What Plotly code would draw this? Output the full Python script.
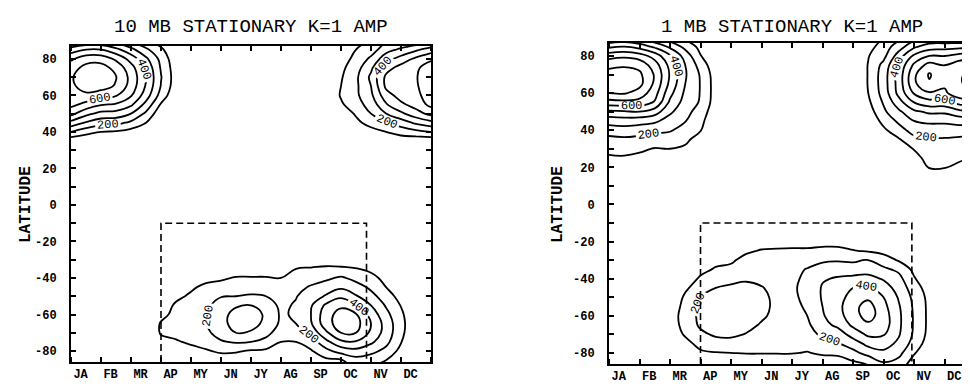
import plotly.graph_objects as go

# ---------------- data ----------------
MONTHS = ["JA", "FB", "MR", "AP", "MY", "JN", "JY", "AG", "SP", "OC", "NV", "DC"]
MONTH_X = [0, 0.5, 1, 1.5, 2, 2.5, 3, 3.5, 4, 4.5, 5, 5.5, 6,
           6.5, 7, 7.5, 8, 8.5, 9, 9.5, 10, 10.5, 11, 11.5, 12]
LATITUDES = [90, 85, 80, 75, 70, 65, 60, 55, 50, 45, 40, 35, 30, 25, 20, 15, 10, 5, 0,
             -5, -10, -15, -20, -25, -30, -35, -40, -45, -50, -55, -60, -65, -70, -75, -80, -85, -90]
LAT_TICKS = [-80, -60, -40, -20, 0, 20, 40, 60, 80]
LAT_TICK_TEXT = ["-80", "-60", "-40", "-20", "0", "20", "40", "60", "80"]

TITLE_10MB = "10 MB STATIONARY K=1 AMP"
TITLE_1MB = "1 MB STATIONARY K=1 AMP"

# dashed box: [start month, end month, top latitude]
BOX_10MB = [3.0, 9.85, -10]
BOX_1MB = [3.0, 9.93, -10]

# amplitude (rows = LATITUDES, cols = MONTH_X)
AMP_10MB = [
    [250, 300, 300, 250, 180, 110, 50, 0, 0, 0, 0, 0, 0, 0, 0, 0, 0, 0, 0, 60, 110, 180, 200, 220, 250],
    [450, 500, 500, 430, 330, 220, 120, 10, 0, 0, 0, 0, 0, 0, 0, 0, 0, 0, 20, 100, 150, 260, 320, 380, 450],
    [580, 660, 660, 580, 460, 320, 170, 30, 0, 0, 0, 0, 0, 0, 0, 0, 0, 0, 50, 130, 220, 360, 440, 520, 580],
    [660, 730, 740, 670, 540, 380, 190, 45, 0, 0, 0, 0, 0, 0, 0, 0, 0, 0, 75, 160, 280, 460, 540, 580, 660],
    [690, 750, 760, 705, 570, 400, 205, 50, 0, 0, 0, 0, 0, 0, 0, 0, 0, 0, 90, 180, 320, 520, 580, 590, 690],
    [680, 740, 740, 690, 560, 390, 195, 45, 0, 0, 0, 0, 0, 0, 0, 0, 0, 0, 100, 180, 300, 520, 570, 585, 680],
    [660, 680, 650, 610, 510, 350, 160, 20, 0, 0, 0, 0, 0, 0, 0, 0, 0, 0, 110, 180, 280, 460, 540, 570, 660],
    [630, 570, 510, 490, 420, 270, 90, 0, 0, 0, 0, 0, 0, 0, 0, 0, 0, 0, 85, 160, 240, 390, 480, 540, 630],
    [530, 430, 370, 360, 300, 180, 30, 0, 0, 0, 0, 0, 0, 0, 0, 0, 0, 0, 50, 110, 200, 300, 380, 460, 530],
    [370, 290, 240, 230, 180, 100, 0, 0, 0, 0, 0, 0, 0, 0, 0, 0, 0, 0, 20, 80, 130, 190, 250, 320, 370],
    [200, 140, 100, 90, 60, 20, 0, 0, 0, 0, 0, 0, 0, 0, 0, 0, 0, 0, 0, 30, 70, 100, 140, 170, 200],
    [30, 10, 0, 0, 0, 0, 0, 0, 0, 0, 0, 0, 0, 0, 0, 0, 0, 0, 0, 0, 10, 30, 40, 30, 30],
    [0, 0, 0, 0, 0, 0, 0, 0, 0, 0, 0, 0, 0, 0, 0, 0, 0, 0, 0, 0, 0, 0, 0, 0, 0],
    [0, 0, 0, 0, 0, 0, 0, 0, 0, 0, 0, 0, 0, 0, 0, 0, 0, 0, 0, 0, 0, 0, 0, 0, 0],
    [0, 0, 0, 0, 0, 0, 0, 0, 0, 0, 0, 0, 0, 0, 0, 0, 0, 0, 0, 0, 0, 0, 0, 0, 0],
    [0, 0, 0, 0, 0, 0, 0, 0, 0, 0, 0, 0, 0, 0, 0, 0, 0, 0, 0, 0, 0, 0, 0, 0, 0],
    [0, 0, 0, 0, 0, 0, 0, 0, 0, 0, 0, 0, 0, 0, 0, 0, 0, 0, 0, 0, 0, 0, 0, 0, 0],
    [0, 0, 0, 0, 0, 0, 0, 0, 0, 0, 0, 0, 0, 0, 0, 0, 0, 0, 0, 0, 0, 0, 0, 0, 0],
    [0, 0, 0, 0, 0, 0, 0, 0, 0, 0, 0, 0, 0, 0, 0, 0, 0, 0, 0, 0, 0, 0, 0, 0, 0],
    [0, 0, 0, 0, 0, 0, 0, 0, 0, 0, 0, 0, 0, 0, 0, 0, 0, 0, 0, 0, 0, 0, 0, 0, 0],
    [0, 0, 0, 0, 0, 0, 0, 0, 0, 0, 0, 0, 0, 0, 0, 0, 0, 0, 0, 0, 0, 0, 0, 0, 0],
    [0, 0, 0, 0, 0, 0, 0, 0, 0, 0, 0, 0, 0, 0, 0, 0, 0, 0, 0, 0, 0, 0, 0, 0, 0],
    [0, 0, 0, 0, 0, 0, 0, 0, 0, 0, 0, 0, 0, 0, 0, 0, 0, 0, 0, 0, 0, 0, 0, 0, 0],
    [0, 0, 0, 0, 0, 0, 0, 0, 0, 0, 0, 0, 0, 0, 0, 0, 0, 0, 0, 0, 0, 0, 0, 0, 0],
    [0, 0, 0, 0, 0, 0, 0, 0, 0, 0, 0, 0, 0, 0, 0, 20, 40, 50, 50, 40, 20, 0, 0, 0, 0],
    [0, 0, 0, 0, 0, 0, 0, 0, 0, 0, 20, 30, 30, 30, 30, 100, 110, 120, 115, 105, 70, 20, 0, 0, 0],
    [0, 0, 0, 0, 0, 0, 0, 0, 20, 60, 80, 110, 110, 110, 100, 140, 160, 180, 215, 170, 140, 60, 0, 0, 0],
    [0, 0, 0, 0, 0, 0, 0, 0, 80, 130, 150, 160, 160, 160, 150, 170, 210, 250, 280, 240, 180, 100, 0, 0, 0],
    [0, 0, 0, 0, 0, 0, 0, 70, 120, 160, 195, 200, 210, 200, 180, 195, 250, 310, 380, 310, 230, 150, 60, 0, 0],
    [0, 0, 0, 0, 0, 0, 30, 120, 140, 180, 240, 290, 300, 250, 180, 210, 290, 420, 480, 400, 300, 190, 95, 0, 0],
    [0, 0, 0, 0, 0, 0, 70, 130, 150, 190, 270, 330, 330, 290, 185, 215, 300, 460, 540, 510, 360, 230, 120, 10, 0],
    [0, 0, 0, 0, 0, 0, 110, 130, 150, 195, 275, 330, 330, 280, 180, 200, 290, 460, 550, 540, 400, 260, 130, 20, 0],
    [0, 0, 0, 0, 0, 0, 110, 125, 140, 180, 240, 300, 290, 230, 150, 160, 230, 380, 500, 500, 380, 260, 125, 15, 0],
    [0, 0, 0, 0, 0, 0, 70, 90, 115, 140, 190, 210, 200, 170, 100, 100, 150, 270, 380, 390, 320, 230, 105, 0, 0],
    [0, 0, 0, 0, 0, 0, 20, 40, 70, 90, 115, 110, 90, 80, 40, 50, 90, 170, 240, 270, 230, 170, 70, 0, 0],
    [0, 0, 0, 0, 0, 0, 0, 10, 30, 40, 50, 50, 40, 30, 10, 20, 40, 80, 90, 160, 140, 100, 30, 0, 0],
    [0, 0, 0, 0, 0, 0, 0, 0, 0, 0, 10, 10, 10, 0, 0, 0, 10, 30, 30, 100, 80, 60, 10, 0, 0],
]

AMP_1MB = [
    [280, 300, 260, 200, 130, 70, 20, 0, 0, 0, 0, 0, 0, 0, 0, 0, 0, 30, 100, 170, 250, 300, 300, 290, 280],
    [480, 500, 460, 380, 280, 170, 70, 0, 0, 0, 0, 0, 0, 0, 0, 0, 0, 60, 150, 250, 380, 450, 460, 470, 480],
    [660, 680, 650, 560, 410, 260, 105, 10, 0, 0, 0, 0, 0, 0, 0, 0, 0, 95, 170, 350, 520, 600, 600, 640, 660],
    [780, 790, 770, 650, 470, 300, 160, 30, 0, 0, 0, 0, 0, 0, 0, 0, 0, 105, 230, 420, 620, 740, 700, 760, 780],
    [830, 840, 820, 690, 490, 310, 190, 50, 0, 0, 0, 0, 0, 0, 0, 0, 10, 105, 250, 440, 680, 810, 730, 790, 830],
    [840, 850, 830, 680, 475, 300, 195, 55, 0, 0, 0, 0, 0, 0, 0, 0, 10, 105, 250, 440, 680, 790, 720, 790, 840],
    [800, 810, 760, 640, 430, 280, 195, 55, 0, 0, 0, 0, 0, 0, 0, 0, 0, 100, 240, 430, 610, 690, 680, 770, 800],
    [660, 670, 660, 590, 380, 260, 190, 50, 0, 0, 0, 0, 0, 0, 0, 0, 0, 80, 210, 360, 500, 560, 560, 640, 660],
    [480, 490, 500, 450, 320, 230, 160, 30, 0, 0, 0, 0, 0, 0, 0, 0, 0, 50, 180, 280, 380, 420, 420, 470, 480],
    [340, 350, 340, 320, 255, 205, 130, 10, 0, 0, 0, 0, 0, 0, 0, 0, 0, 20, 130, 220, 300, 320, 320, 340, 340],
    [250, 260, 245, 225, 210, 160, 105, 0, 0, 0, 0, 0, 0, 0, 0, 0, 0, 0, 80, 160, 240, 250, 250, 250, 250],
    [170, 180, 170, 155, 150, 120, 60, 0, 0, 0, 0, 0, 0, 0, 0, 0, 0, 0, 40, 90, 170, 190, 190, 180, 170],
    [120, 130, 115, 95, 100, 85, 20, 0, 0, 0, 0, 0, 0, 0, 0, 0, 0, 0, 10, 40, 105, 150, 140, 130, 120],
    [90, 90, 80, 45, 30, 20, 0, 0, 0, 0, 0, 0, 0, 0, 0, 0, 0, 0, 0, 10, 70, 130, 120, 120, 90],
    [30, 30, 20, 0, 0, 0, 0, 0, 0, 0, 0, 0, 0, 0, 0, 0, 0, 0, 0, 0, 40, 105, 105, 70, 30],
    [0, 0, 0, 0, 0, 0, 0, 0, 0, 0, 0, 0, 0, 0, 0, 0, 0, 0, 0, 0, 10, 60, 60, 20, 0],
    [0, 0, 0, 0, 0, 0, 0, 0, 0, 0, 0, 0, 0, 0, 0, 0, 0, 0, 0, 0, 0, 10, 10, 0, 0],
    [0, 0, 0, 0, 0, 0, 0, 0, 0, 0, 0, 0, 0, 0, 0, 0, 0, 0, 0, 0, 0, 0, 0, 0, 0],
    [0, 0, 0, 0, 0, 0, 0, 0, 0, 0, 0, 0, 0, 0, 0, 0, 0, 0, 0, 0, 0, 0, 0, 0, 0],
    [0, 0, 0, 0, 0, 0, 0, 0, 0, 0, 0, 0, 0, 0, 0, 0, 0, 0, 0, 0, 0, 0, 0, 0, 0],
    [0, 0, 0, 0, 0, 0, 0, 0, 0, 0, 0, 0, 0, 0, 0, 0, 0, 0, 0, 0, 0, 0, 0, 0, 0],
    [0, 0, 0, 0, 0, 0, 0, 0, 0, 0, 0, 0, 0, 0, 0, 0, 0, 0, 0, 0, 0, 0, 0, 0, 0],
    [0, 0, 0, 0, 0, 0, 0, 0, 0, 10, 40, 50, 50, 50, 60, 60, 55, 40, 20, 0, 0, 0, 0, 0, 0],
    [0, 0, 0, 0, 0, 0, 0, 0, 10, 80, 110, 115, 120, 120, 130, 130, 105, 90, 70, 40, 0, 0, 0, 0, 0],
    [0, 0, 0, 0, 0, 0, 10, 60, 80, 140, 140, 140, 150, 165, 185, 190, 180, 205, 150, 90, 30, 0, 0, 0, 0],
    [0, 0, 0, 0, 0, 0, 60, 115, 130, 165, 160, 155, 175, 205, 240, 260, 260, 260, 220, 180, 75, 0, 0, 0, 0],
    [0, 0, 0, 0, 0, 20, 120, 160, 175, 190, 180, 165, 185, 215, 290, 310, 320, 330, 290, 230, 110, 20, 0, 0, 0],
    [0, 0, 0, 0, 0, 80, 160, 200, 215, 220, 205, 175, 190, 220, 310, 340, 400, 420, 350, 260, 150, 50, 0, 0, 0],
    [0, 0, 0, 0, 0, 120, 200, 240, 250, 250, 220, 180, 185, 220, 310, 360, 440, 480, 400, 290, 175, 70, 0, 0, 0],
    [0, 0, 0, 0, 20, 140, 220, 250, 260, 260, 225, 180, 180, 210, 300, 370, 470, 540, 430, 310, 185, 75, 0, 0, 0],
    [0, 0, 0, 0, 40, 150, 220, 250, 260, 250, 215, 175, 175, 200, 290, 360, 460, 540, 450, 320, 190, 75, 0, 0, 0],
    [0, 0, 0, 0, 40, 140, 215, 245, 250, 230, 190, 165, 165, 180, 270, 320, 420, 480, 450, 320, 190, 75, 0, 0, 0],
    [0, 0, 0, 0, 20, 115, 180, 215, 220, 195, 165, 150, 150, 160, 220, 250, 340, 420, 410, 310, 185, 70, 0, 0, 0],
    [0, 0, 0, 0, 0, 60, 140, 160, 165, 150, 135, 130, 130, 135, 165, 190, 250, 330, 340, 280, 160, 50, 0, 0, 0],
    [0, 0, 0, 0, 0, 20, 80, 95, 100, 105, 105, 105, 105, 95, 115, 120, 170, 240, 280, 230, 110, 20, 0, 0, 0],
    [0, 0, 0, 0, 0, 0, 30, 40, 40, 45, 50, 50, 50, 45, 55, 60, 90, 120, 200, 170, 60, 0, 0, 0, 0],
    [0, 0, 0, 0, 0, 0, 0, 0, 0, 0, 0, 0, 0, 0, 0, 0, 40, 60, 120, 110, 30, 0, 0, 0, 0],
]

# ---------------- styling ----------------
FONT = "Liberation Mono"
Y_RANGE = [-86, 87]
LINE_W = 1.8
BLACK_SCALE = [[0, "black"], [1, "black"]]

fig = go.Figure()


def add_panel(z, box, xa, ya):
    common = dict(x=MONTH_X, y=LATITUDES, z=z, showscale=False, hoverinfo="skip",
                  autocontour=False, xaxis=xa, yaxis=ya, colorscale=BLACK_SCALE)
    # odd hundreds, unlabelled
    fig.add_trace(go.Contour(**common,
                             contours=dict(start=100, end=900, size=200, coloring="lines",
                                           showlabels=False),
                             line=dict(width=LINE_W, smoothing=1.2)))
    # 800 unlabelled
    fig.add_trace(go.Contour(**common,
                             contours=dict(start=800, end=800, size=100, coloring="lines",
                                           showlabels=False),
                             line=dict(width=LINE_W, smoothing=1.2)))
    # 200/400/600 labelled
    fig.add_trace(go.Contour(**common,
                             contours=dict(start=200, end=600, size=200, coloring="lines",
                                           showlabels=True,
                                           labelfont=dict(family=FONT, size=12, color="black")),
                             line=dict(width=LINE_W, smoothing=1.2)))
    x0, x1, ytop = box
    fig.add_trace(go.Scatter(x=[x0, x0, x1, x1], y=[Y_RANGE[0], ytop, ytop, Y_RANGE[0]],
                             mode="lines", xaxis=xa, yaxis=ya, hoverinfo="skip",
                             line=dict(color="black", width=1.6, dash="7px,4px")))


add_panel(AMP_10MB, BOX_10MB, "x", "y")
add_panel(AMP_1MB, BOX_1MB, "x2", "y2")


def xaxis(domain, anchor):
    return dict(domain=domain, anchor=anchor, range=[0, 12], tickmode="array",
                tickvals=[i + 0.32 for i in range(12)], ticktext=MONTHS, ticks="",
                showgrid=False, zeroline=False, showline=True, linecolor="black",
                linewidth=2, mirror="ticks",
                tickfont=dict(family=FONT, size=12, color="black", weight="bold"),
                ticklabelstandoff=0,
                minor=dict(tickmode="linear", tick0=0, dtick=1, ticks="inside",
                           ticklen=5, tickwidth=1.5, tickcolor="black", showgrid=False))


def yaxis(domain, anchor):
    return dict(domain=domain, anchor=anchor, range=Y_RANGE, tickmode="array",
                tickvals=LAT_TICKS, ticktext=LAT_TICK_TEXT, ticks="inside", ticklen=5,
                tickwidth=1.5, tickcolor="black", showgrid=False, zeroline=False,
                showline=True, linecolor="black", linewidth=2, mirror="ticks",
                tickfont=dict(family=FONT, size=12, color="black", weight="bold"),
                ticklabelstandoff=10,
                minor=dict(tickmode="linear", tick0=0, dtick=10, ticks="inside",
                           ticklen=5, tickwidth=1.5, tickcolor="black", showgrid=False))


L_DOM = [63 / 970, 423 / 970]
R_DOM = [601 / 970, 967 / 970]
L_YDOM = [1 - 354 / 389, 1 - 38 / 389]
R_YDOM = [1 - 356 / 389, 1 - 35 / 389]

annotations = [
    dict(text=TITLE_10MB, x=(L_DOM[0] + L_DOM[1]) / 2, y=1 - 19 / 389, xref="paper", yref="paper",
         showarrow=False, xanchor="center", yanchor="middle",
         font=dict(family=FONT, size=19, color="black")),
    dict(text=TITLE_1MB, x=(R_DOM[0] + R_DOM[1]) / 2, y=1 - 19 / 389, xref="paper", yref="paper",
         showarrow=False, xanchor="center", yanchor="middle",
         font=dict(family=FONT, size=19, color="black")),
    dict(text="LATITUDE", x=18 / 970, y=1 - 197 / 389, xref="paper", yref="paper",
         showarrow=False, textangle=-90, xanchor="center", yanchor="middle",
         font=dict(family=FONT, size=16, color="black", weight="bold")),
    dict(text="LATITUDE", x=550 / 970, y=1 - 197 / 389, xref="paper", yref="paper",
         showarrow=False, textangle=-90, xanchor="center", yanchor="middle",
         font=dict(family=FONT, size=16, color="black", weight="bold")),
]

fig.update_layout(
    width=970, height=389, margin=dict(l=0, r=0, t=0, b=0),
    paper_bgcolor="white", plot_bgcolor="white", showlegend=False,
    font=dict(family=FONT, color="black"),
    xaxis=xaxis(L_DOM, "y"), yaxis=yaxis(L_YDOM, "x"),
    xaxis2=xaxis(R_DOM, "y2"), yaxis2=yaxis(R_YDOM, "x2"),
    annotations=annotations,
)

fig.write_html("out.html")
